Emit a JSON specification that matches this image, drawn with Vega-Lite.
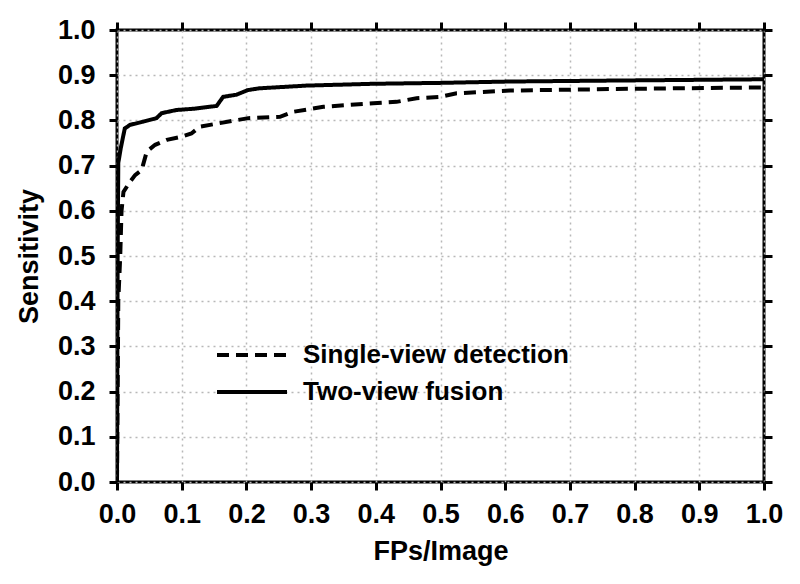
{
  "$schema": "https://vega.github.io/schema/vega-lite/v6.json",
  "width": 647,
  "height": 452,
  "autosize": {"type": "none"},
  "padding": {"left": 117, "top": 30, "right": 36, "bottom": 102},
  "background": "white",
  "config": {
    "font": "Liberation Sans",
    "view": {"stroke": "black", "strokeWidth": 3},
    "axis": {
      "labelFont": "Liberation Sans",
      "labelFontWeight": "bold",
      "labelFontSize": 27,
      "labelColor": "black",
      "titleFont": "Liberation Sans",
      "titleFontWeight": "bold",
      "titleFontSize": 27,
      "titleColor": "black",
      "tickColor": "black",
      "tickWidth": 3,
      "tickSize": 8,
      "domain": false,
      "gridColor": "#b8b8b8",
      "gridDash": [2, 4],
      "gridWidth": 1.5
    }
  },
  "data": {
    "values": [
      {"s": "Single-view detection", "x": 0.0, "y": 0.0},
      {"s": "Single-view detection", "x": 0.002, "y": 0.4},
      {"s": "Single-view detection", "x": 0.005, "y": 0.5},
      {"s": "Single-view detection", "x": 0.007, "y": 0.6},
      {"s": "Single-view detection", "x": 0.01, "y": 0.642},
      {"s": "Single-view detection", "x": 0.02, "y": 0.664},
      {"s": "Single-view detection", "x": 0.028, "y": 0.679},
      {"s": "Single-view detection", "x": 0.038, "y": 0.69},
      {"s": "Single-view detection", "x": 0.04, "y": 0.7},
      {"s": "Single-view detection", "x": 0.046, "y": 0.731},
      {"s": "Single-view detection", "x": 0.059, "y": 0.746},
      {"s": "Single-view detection", "x": 0.077, "y": 0.757},
      {"s": "Single-view detection", "x": 0.1, "y": 0.764},
      {"s": "Single-view detection", "x": 0.115, "y": 0.771},
      {"s": "Single-view detection", "x": 0.128, "y": 0.786},
      {"s": "Single-view detection", "x": 0.159, "y": 0.794},
      {"s": "Single-view detection", "x": 0.203, "y": 0.805},
      {"s": "Single-view detection", "x": 0.252, "y": 0.808},
      {"s": "Single-view detection", "x": 0.272, "y": 0.819},
      {"s": "Single-view detection", "x": 0.319, "y": 0.83},
      {"s": "Single-view detection", "x": 0.396, "y": 0.838},
      {"s": "Single-view detection", "x": 0.432, "y": 0.841},
      {"s": "Single-view detection", "x": 0.463, "y": 0.849},
      {"s": "Single-view detection", "x": 0.499, "y": 0.852},
      {"s": "Single-view detection", "x": 0.525, "y": 0.86},
      {"s": "Single-view detection", "x": 0.607, "y": 0.866},
      {"s": "Single-view detection", "x": 0.7, "y": 0.868},
      {"s": "Single-view detection", "x": 0.8, "y": 0.87},
      {"s": "Single-view detection", "x": 1.0, "y": 0.873},
      {"s": "Two-view fusion", "x": 0.0, "y": 0.0},
      {"s": "Two-view fusion", "x": 0.001, "y": 0.5},
      {"s": "Two-view fusion", "x": 0.002, "y": 0.706},
      {"s": "Two-view fusion", "x": 0.006, "y": 0.74},
      {"s": "Two-view fusion", "x": 0.012, "y": 0.782},
      {"s": "Two-view fusion", "x": 0.02, "y": 0.79},
      {"s": "Two-view fusion", "x": 0.04, "y": 0.797},
      {"s": "Two-view fusion", "x": 0.061, "y": 0.805},
      {"s": "Two-view fusion", "x": 0.069, "y": 0.816},
      {"s": "Two-view fusion", "x": 0.092, "y": 0.823},
      {"s": "Two-view fusion", "x": 0.12, "y": 0.826},
      {"s": "Two-view fusion", "x": 0.154, "y": 0.832},
      {"s": "Two-view fusion", "x": 0.164, "y": 0.852},
      {"s": "Two-view fusion", "x": 0.185, "y": 0.857},
      {"s": "Two-view fusion", "x": 0.202, "y": 0.867},
      {"s": "Two-view fusion", "x": 0.22, "y": 0.871},
      {"s": "Two-view fusion", "x": 0.293, "y": 0.877},
      {"s": "Two-view fusion", "x": 0.396, "y": 0.881},
      {"s": "Two-view fusion", "x": 0.499, "y": 0.883},
      {"s": "Two-view fusion", "x": 0.607, "y": 0.886},
      {"s": "Two-view fusion", "x": 0.757, "y": 0.888},
      {"s": "Two-view fusion", "x": 1.0, "y": 0.891}
    ]
  },
  "layer": [
    {
      "mark": {"type": "line", "strokeWidth": 4, "color": "black", "clip": true},
      "encoding": {
        "x": {
          "field": "x", "type": "quantitative",
          "scale": {"domain": [0, 1], "nice": false},
          "axis": {"orient": "bottom", "values": [0,0.1,0.2,0.3,0.4,0.5,0.6,0.7,0.8,0.9,1.0], "format": ".1f", "title": "FPs/Image", "labelPadding": 11, "titlePadding": 11, "labelFlush": false}
        },
        "y": {
          "field": "y", "type": "quantitative",
          "scale": {"domain": [0, 1], "nice": false},
          "axis": {"orient": "left", "values": [0,0.1,0.2,0.3,0.4,0.5,0.6,0.7,0.8,0.9,1.0], "format": ".1f", "title": "Sensitivity", "labelPadding": 14, "titlePadding": 14, "labelFlush": false}
        },
        "strokeDash": {
          "field": "s", "type": "nominal",
          "scale": {"domain": ["Single-view detection", "Two-view fusion"], "range": [[12, 7], [1, 0]]},
          "legend": {
            "title": null,
            "orient": "none",
            "legendX": 98,
            "legendY": 310,
            "symbolType": "stroke",
            "symbolSize": 4900,
            "symbolStrokeWidth": 4,
            "symbolStrokeColor": "black",
            "clipHeight": 30,
            "labelFont": "Liberation Sans",
            "labelFontWeight": "bold",
            "labelFontSize": 26,
            "labelColor": "black",
            "labelOffset": 14,
            "rowPadding": 7,
            "labelLimit": 400
          }
        }
      }
    },
    {
      "mark": {"type": "line", "opacity": 0},
      "encoding": {
        "x": {
          "field": "x", "type": "quantitative",
          "axis": {"orient": "top", "values": [0,0.1,0.2,0.3,0.4,0.5,0.6,0.7,0.8,0.9,1.0], "labels": false, "grid": false, "title": null}
        },
        "y": {
          "field": "y", "type": "quantitative",
          "axis": {"orient": "right", "values": [0,0.1,0.2,0.3,0.4,0.5,0.6,0.7,0.8,0.9,1.0], "labels": false, "grid": false, "title": null}
        }
      }
    }
  ],
  "resolve": {"axis": {"x": "independent", "y": "independent"}}
}
